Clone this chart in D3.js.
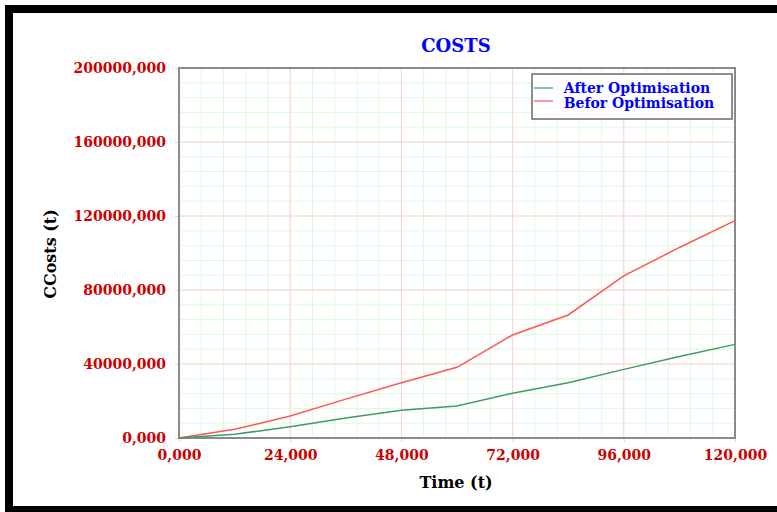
<!DOCTYPE html>
<html>
<head>
<meta charset="utf-8">
<script src="https://cdn.jsdelivr.net/npm/d3@7"></script>
<style>
  body { margin: 0; background: #fff; }
</style>
</head>
<body>
<div id="container"></div>
<script>
// data
let time = [0, 12000, 24000, 36000, 48000, 60000, 72000, 84000, 96000, 108000, 120000];
let afterOpt = [0, 2.0e6, 6.1e6, 10.8e6, 15.0e6, 17.3e6, 24.2e6, 29.9e6, 37.1e6, 44.0e6, 50.6e6];
let beforeOpt = [0, 4.7e6, 11.9e6, 21.0e6, 29.9e6, 38.2e6, 55.7e6, 66.5e6, 87.6e6, 103.0e6, 117.5e6];
let xTicks = [0, 24000, 48000, 72000, 96000, 120000];
let yTicks = [0, 40e6, 80e6, 120e6, 160e6, 200e6];
let seriesNames = ["After Optimisation", "Befor Optimisation"];

let w = 777;
let h = 512;
let pLeft = 179, pRight = 735, pTop = 68, pBottom = 438;
let serif = "'DejaVu Serif', serif";

let viz = d3.select("#container")
  .append("svg")
    .attr("width", w)
    .attr("height", h)
    .style("display", "block");

// black frame
viz.append("rect")
  .attr("x", 9).attr("y", 9)
  .attr("width", 800).attr("height", 501)
  .attr("fill", "none")
  .attr("stroke", "#000")
  .attr("stroke-width", 8);

let xScale = d3.scaleLinear().domain([0, 120000]).range([pLeft, pRight]);
let yScale = d3.scaleLinear().domain([0, 200e6]).range([pBottom, pTop]);

let loc = d3.formatLocale({decimal: ",", thousands: "", grouping: [3], currency: ["", ""]});
let fmt = loc.format(".3f");
let tickFmt = d => fmt(d / 1000);

// minor grid
let grid = viz.append("g").attr("class", "grid");
grid.selectAll(".vminor").data(d3.range(0, 120001, 4800)).enter()
  .append("line")
    .attr("x1", d => xScale(d)).attr("x2", d => xScale(d))
    .attr("y1", pTop).attr("y2", pBottom)
    .attr("stroke", "#dcfadc").attr("stroke-width", 1);
grid.selectAll(".hminor").data(d3.range(0, 200e6 + 1, 8e6)).enter()
  .append("line")
    .attr("x1", pLeft).attr("x2", pRight)
    .attr("y1", d => yScale(d)).attr("y2", d => yScale(d))
    .attr("stroke", "#dcfadc").attr("stroke-width", 1);
// major grid
grid.selectAll(".vmajor").data(xTicks).enter()
  .append("line")
    .attr("x1", d => xScale(d)).attr("x2", d => xScale(d))
    .attr("y1", pTop).attr("y2", pBottom)
    .attr("stroke", "#ffd2d2").attr("stroke-width", 1);
grid.selectAll(".hmajor").data(yTicks).enter()
  .append("line")
    .attr("x1", pLeft).attr("x2", pRight)
    .attr("y1", d => yScale(d)).attr("y2", d => yScale(d))
    .attr("stroke", "#ffd2d2").attr("stroke-width", 1);

// axes
let xAxis = d3.axisBottom(xScale).tickValues(xTicks).tickFormat(tickFmt).tickSize(4).tickPadding(8);
let xAxisGroup = viz.append("g").attr("transform", "translate(0," + pBottom + ")").call(xAxis);
let yAxis = d3.axisLeft(yScale).tickValues(yTicks).tickFormat(tickFmt).tickSize(4).tickPadding(9);
let yAxisGroup = viz.append("g").attr("transform", "translate(" + pLeft + ",0)").call(yAxis);
[xAxisGroup, yAxisGroup].forEach(g => {
  g.select(".domain").remove();
  g.selectAll(".tick line").attr("stroke", "#ffc4c4");
  g.selectAll(".tick text")
    .attr("fill", "#cc0000")
    .style("font-family", serif)
    .style("font-weight", "bold")
    .style("font-size", "14px");
});

// plot box
viz.append("rect")
  .attr("x", pLeft).attr("y", pTop)
  .attr("width", pRight - pLeft).attr("height", pBottom - pTop)
  .attr("fill", "none")
  .attr("stroke", "#8a8a8a")
  .attr("stroke-width", 2);

// lines
let line = d3.line().x((d, i) => xScale(time[i])).y(d => yScale(d));
viz.append("path").datum(beforeOpt)
  .attr("d", line).attr("fill", "none")
  .attr("stroke", "#ff5555").attr("stroke-width", 1.5);
viz.append("path").datum(afterOpt)
  .attr("d", line).attr("fill", "none")
  .attr("stroke", "#3f9a66").attr("stroke-width", 1.5);

// title
viz.append("text")
  .text("COSTS")
  .attr("x", 456).attr("y", 52)
  .attr("text-anchor", "middle")
  .attr("fill", "#0000ff")
  .style("font-family", serif).style("font-weight", "bold").style("font-size", "18px");

// axis titles
viz.append("text")
  .text("Time (t)")
  .attr("x", 456).attr("y", 488)
  .attr("text-anchor", "middle")
  .attr("fill", "#000")
  .style("font-family", serif).style("font-weight", "bold").style("font-size", "16px");
viz.append("text")
  .text("CCosts (t)")
  .attr("text-anchor", "middle")
  .attr("transform", "translate(56,254),rotate(-90)")
  .attr("fill", "#000")
  .style("font-family", serif).style("font-weight", "bold").style("font-size", "16px");

// legend
let legend = viz.append("g").attr("class", "legend");
legend.append("rect")
  .attr("x", 532).attr("y", 74)
  .attr("width", 200).attr("height", 45)
  .attr("fill", "#fff")
  .attr("stroke", "#6a6a6a").attr("stroke-width", 1.5);
let legColors = ["#3f9a66", "#ff5555"];
legend.selectAll(".legline").data(seriesNames).enter()
  .append("line")
    .attr("x1", 534).attr("x2", 553)
    .attr("y1", (d, i) => 88 + i * 13).attr("y2", (d, i) => 88 + i * 13)
    .attr("stroke", (d, i) => legColors[i]).attr("stroke-width", 1.2);
legend.selectAll(".legtext").data(seriesNames).enter()
  .append("text")
    .text(d => d)
    .attr("x", (d, i) => 637 + i * 2).attr("y", (d, i) => 93 + i * 15)
    .attr("text-anchor", "middle")
    .attr("fill", "#0000ff")
    .style("font-family", serif).style("font-weight", "bold").style("font-size", "14px");
</script>
</body>
</html>
